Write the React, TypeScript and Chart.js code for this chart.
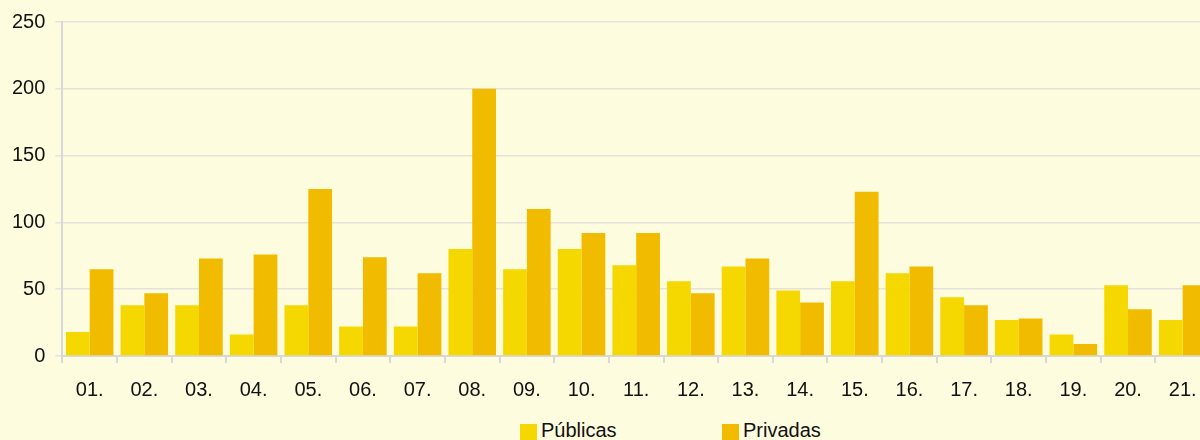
import React, { useEffect, useRef } from "react";
import { Chart, registerables } from "chart.js";

Chart.register(...registerables);

const categories = ["01.", "02.", "03.", "04.", "05.", "06.", "07.", "08.", "09.", "10.", "11.", "12.", "13.", "14.", "15.", "16.", "17.", "18.", "19.", "20.", "21."];
const publicas = [18, 38, 38, 16, 38, 22, 22, 80, 65, 80, 68, 56, 67, 49, 56, 62, 44, 27, 16, 53, 27];
const privadas = [65, 47, 73, 76, 125, 74, 62, 200, 110, 92, 92, 47, 73, 40, 123, 67, 38, 28, 9, 35, 53];
const yTicks = [0, 50, 100, 150, 200, 250];

const seriesNames = ["Públicas", "Privadas"];
const colors = ["#F5D800", "#F1BC00"];
const BG = "#FEFCDF";
const FONT = "'Liberation Sans', Arial, Helvetica, sans-serif";

export default function App() {
  const ref = useRef<HTMLCanvasElement | null>(null);

  useEffect(() => {
    if (!ref.current) return;
    const chart = new Chart(ref.current, {
      type: "bar",
      data: {
        labels: categories,
        datasets: [
          { label: seriesNames[0], data: publicas, backgroundColor: colors[0], borderWidth: 0 },
          { label: seriesNames[1], data: privadas, backgroundColor: colors[1], borderWidth: 0 },
        ],
      },
      options: {
        responsive: false,
        animation: false,
        devicePixelRatio: 1,
        layout: { padding: { left: 2, right: 2, top: 19, bottom: 0 } },
        datasets: { bar: { categoryPercentage: 0.87, barPercentage: 1.0 } },
        plugins: {
          legend: { display: false },
          tooltip: { enabled: false },
        },
        scales: {
          x: {
            grid: { drawOnChartArea: false, drawTicks: true, tickLength: 7, color: "#D8D8D8", lineWidth: 2 },
            border: { display: true, color: "#D8D8D8", width: 2 },
            ticks: { color: "#111", font: { family: FONT, size: 20 }, padding: 15, maxRotation: 0, autoSkip: false },
          },
          y: {
            min: 0,
            max: 250,
            afterBuildTicks: (axis: any) => {
              axis.ticks = yTicks.map((v) => ({ value: v }));
            },
            grid: { color: "#E4E2DA", lineWidth: 1.5, drawTicks: true, tickLength: 7 },
            border: { display: true, color: "#D8D8D8", width: 2 },
            ticks: { color: "#111", font: { family: FONT, size: 20 }, padding: 10 },
          },
        },
      },
    });
    return () => chart.destroy();
  }, []);

  const legendText: React.CSSProperties = {
    position: "absolute",
    fontFamily: FONT,
    fontSize: 20,
    lineHeight: "20px",
    color: "#111",
    whiteSpace: "nowrap",
  };

  return (
    <div style={{ position: "fixed", left: 0, top: 0, width: 1200, height: 440, overflow: "hidden", background: BG }}>
      <canvas ref={ref} width={1212} height={417} style={{ position: "absolute", left: 0, top: 0, width: 1212, height: 417 }} />
      <div style={{ position: "absolute", left: 520, top: 424, width: 17, height: 17, background: colors[0] }} />
      <div style={{ ...legendText, left: 541, top: 420 }}>{seriesNames[0]}</div>
      <div style={{ position: "absolute", left: 722, top: 424, width: 17, height: 17, background: colors[1] }} />
      <div style={{ ...legendText, left: 743, top: 420 }}>{seriesNames[1]}</div>
    </div>
  );
}
